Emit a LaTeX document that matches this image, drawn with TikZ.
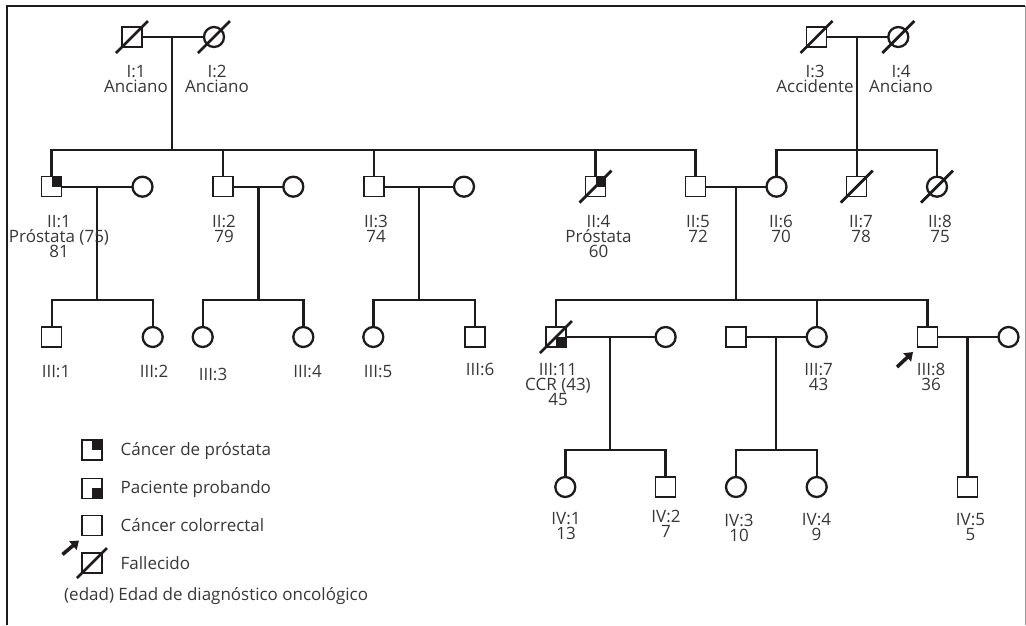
\documentclass[tikz,border=0pt]{standalone}
\usepackage{fontspec}
\setmainfont{Open Sans}
\usetikzlibrary{arrows.meta}
\definecolor{ink}{RGB}{30,27,28}
\definecolor{txt}{RGB}{55,55,55}
\definecolor{framegray}{RGB}{150,150,150}
\tikzset{
  male/.style={draw=ink, line width=1.4pt, rectangle, minimum width=20pt, minimum height=20pt, inner sep=0pt, outer sep=0pt},
  female/.style={draw=ink, line width=2.3pt, circle, minimum size=20pt, inner sep=0pt, outer sep=0pt},
  lbl/.style={anchor=north, align=center, inner sep=0pt, text=txt, font=\fontsize{17}{15}\selectfont},
  legtxt/.style={anchor=base west, inner sep=0pt, text=txt, font=\fontsize{17}{20}\selectfont},
  tie/.style={draw=ink, line width=2.4pt},
  slash/.style={draw=ink, line width=2.8pt},
  probarrow/.style={draw=ink, line width=3.6pt, -{Triangle[length=8pt,width=11pt]}},
}
\begin{document}
\lineskiplimit=-20pt
\begin{tikzpicture}[x=1pt,y=-1pt]
\useasboundingbox (0,0) rectangle (1026,625);
% frame
\draw[ink, line width=2pt] (7,625) -- (7,6) -- (1025,6);
\draw[framegray, line width=1pt] (1025,6) -- (1025,625);

% level coordinates
\coordinate (sII) at (0,150);
\coordinate (sIII) at (0,300);
\coordinate (sIV) at (0,450);

% ---------- Generation I
\node[male] (I1) at (132,37) {};
\node[female] (I2) at (214,37) {};
\node[male] (I3) at (816.5,37) {};
\node[female] (I4) at (898.3,37) {};
\draw[tie] (I1) -- (I2);
\draw[tie] (I3) -- (I4);
\coordinate (m12) at (172,37);
\coordinate (m34) at (856.7,37);

% ---------- Generation II
\node[male] (II1) at (51.5,186.7) {};
\node[female] (S1) at (142.5,186.7) {};
\node[male] (II2) at (223,186.7) {};
\node[female] (S2) at (293.3,186.7) {};
\node[male] (II3) at (374,186.7) {};
\node[female] (S3) at (464,186.7) {};
\node[male] (II4) at (595.5,186.7) {};
\node[male] (II5) at (695.5,186.7) {};
\node[female] (II6) at (776.5,186.7) {};
\node[male] (II7) at (856.7,186.7) {};
\node[female] (II8) at (937,186.7) {};
\draw[tie] (II1) -- (S1);
\draw[tie] (II2) -- (S2);
\draw[tie] (II3) -- (S3);
\draw[tie] (II5) -- (II6);
\coordinate (mA) at (96.7,186.7);
\coordinate (mB) at (258.3,186.7);
\coordinate (mC) at (419,186.7);
\coordinate (mD) at (736,186.7);

% sibships generation II
\draw[tie] (m12) -- (m12 |- sII);
\draw[tie] (II1.north) -- (II1.north |- sII) -- (II5.north |- sII) -- (II5.north);
\draw[tie] (II2.north) -- (II2.north |- sII);
\draw[tie] (II3.north) -- (II3.north |- sII);
\draw[tie] (II4.north) -- (II4.north |- sII);
\draw[tie] (m34) -- (m34 |- sII);
\draw[tie] (II6.north) -- (II6.north |- sII) -- (II8.north |- sII) -- (II8.north);
\draw[tie] (II7.north) -- (II7.north |- sII);

% ---------- Generation III
\node[male] (III1) at (51.7,337) {};
\node[female] (III2) at (152.7,337) {};
\node[female] (III3) at (202.7,337) {};
\node[female] (III4) at (303.3,337) {};
\node[female] (III5) at (373.3,337) {};
\node[male] (III6) at (475,337) {};
\node[male] (III11) at (556,337) {};
\node[female] (S11) at (665.6,337) {};
\node[male] (S7) at (736,337) {};
\node[female] (III7) at (816.7,337) {};
\node[male] (III8) at (927.4,337) {};
\node[female] (S8) at (1008.5,337) {};
\draw[tie] (III11) -- (S11);
\draw[tie] (S7) -- (III7);
\draw[tie] (III8) -- (S8);
\coordinate (mE) at (610,337);
\coordinate (mF) at (776,337);
\coordinate (mG) at (967.5,337);

% sibships generation III
\draw[tie] (mA) -- (mA |- sIII);
\draw[tie] (III1.north) -- (III1.north |- sIII) -- (III2.north |- sIII) -- (III2.north);
\draw[tie] (mB) -- (mB |- sIII);
\draw[tie] (III3.north) -- (III3.north |- sIII) -- (III4.north |- sIII) -- (III4.north);
\draw[tie] (mC) -- (mC |- sIII);
\draw[tie] (III5.north) -- (III5.north |- sIII) -- (III6.north |- sIII) -- (III6.north);
\draw[tie] (mD) -- (mD |- sIII);
\draw[tie] (III11.north) -- (III11.north |- sIII) -- (III8.north |- sIII) -- (III8.north);
\draw[tie] (III7.north) -- (III7.north |- sIII);

% ---------- Generation IV
\node[female] (IV1) at (565.3,487) {};
\node[male] (IV2) at (665.6,487) {};
\node[female] (IV3) at (736,487) {};
\node[female] (IV4) at (816.7,487) {};
\node[male] (IV5) at (967.5,487) {};
\draw[tie] (mE) -- (mE |- sIV);
\draw[tie] (IV1.north) -- (IV1.north |- sIV) -- (IV2.north |- sIV) -- (IV2.north);
\draw[tie] (mF) -- (mF |- sIV);
\draw[tie] (IV3.north) -- (IV3.north |- sIV) -- (IV4.north |- sIV) -- (IV4.north);
\draw[tie] (mG) -- (IV5.north);

% ---------- shading
\fill[ink] (II1.center) rectangle (II1.north east);
\fill[ink] (II4.center) rectangle (II4.north east);
\fill[ink] (III11.center) rectangle (III11.south east);

% ---------- deceased slashes
\foreach \n in {I1,I2,I3,I4,II4,II7,II8,III11}{
  \draw[slash] ([shift={(-16,16)}]\n.center) -- ([shift={(16,-16)}]\n.center);
}

% ---------- proband arrow
\coordinate (arrT) at (897,367);
\coordinate (arrH) at (913,352);
\draw[probarrow] (arrT) -- (arrH);

% ---------- labels
\node[lbl] (tI1) at (136,65) {I:1\\Anciano};
\node[lbl] (tI2) at (217,65) {I:2\\Anciano};
\node[lbl] (tI3) at (815,65) {I:3\\Accidente};
\node[lbl] (tI4) at (901,65) {I:4\\Anciano};

\node[lbl] (tII1) at (59,215) {II:1\\Próstata (75)\\81};
\node[lbl] (tII2) at (224,215) {II:2\\79};
\node[lbl] (tII3) at (376,215) {II:3\\74};
\node[lbl] (tII4) at (598.5,215) {II:4\\Próstata\\60};
\node[lbl] (tII5) at (698,215) {II:5\\72};
\node[lbl] (tII6) at (781,215) {II:6\\70};
\node[lbl] (tII7) at (861,215) {II:7\\78};
\node[lbl] (tII8) at (940,215) {II:8\\75};

\node[lbl] (tIII1) at (56,365) {III:1};
\node[lbl] (tIII2) at (154,365) {III:2};
\node[lbl] (tIII3) at (213,368) {III:3};
\node[lbl] (tIII4) at (307.5,365) {III:4};
\node[lbl] (tIII5) at (378,365) {III:5};
\node[lbl] (tIII6) at (480,363) {III:6};
\node[lbl] (tIII11) at (558,363) {III:11\\CCR (43)\\45};
\node[lbl] (tIII7) at (818.5,363) {III:7\\43};
\node[lbl] (tIII8) at (931,363) {III:8\\36};

\node[lbl] (tIV1) at (566,512) {IV:1\\13};
\node[lbl] (tIV2) at (666,510) {IV:2\\7};
\node[lbl] (tIV3) at (739,514) {IV:3\\10};
\node[lbl] (tIV4) at (816.5,513) {IV:4\\9};
\node[lbl] (tIV5) at (970.5,513) {IV:5\\5};

% ---------- legend
\node[male] (L1) at (92,450) {};
\fill[ink] (L1.center) rectangle (L1.north east);
\node[legtxt] (LT1) at (120.5,455) {Cáncer de próstata};
\node[male] (L2) at (92,488.3) {};
\fill[ink] (L2.center) rectangle (L2.south east);
\node[legtxt] (LT2) at (120.5,493) {Paciente probando};
\node[male] (L3) at (92,525.5) {};
\node[legtxt] (LT3) at (120.5,531) {Cáncer colorrectal};
\node[male] (L4) at (92,563) {};
\draw[slash] ([shift={(-15,15)}]L4.center) -- ([shift={(15,-15)}]L4.center);
\coordinate (larrT) at (62.5,554.5);
\coordinate (larrH) at (79,540.5);
\draw[probarrow] (larrT) -- (larrH);
\node[legtxt] (LT4) at (120.5,569.5) {Fallecido};
\node[legtxt] (LT5) at (64,600) {(edad) Edad de diagnóstico oncológico};
\end{tikzpicture}
\end{document}
